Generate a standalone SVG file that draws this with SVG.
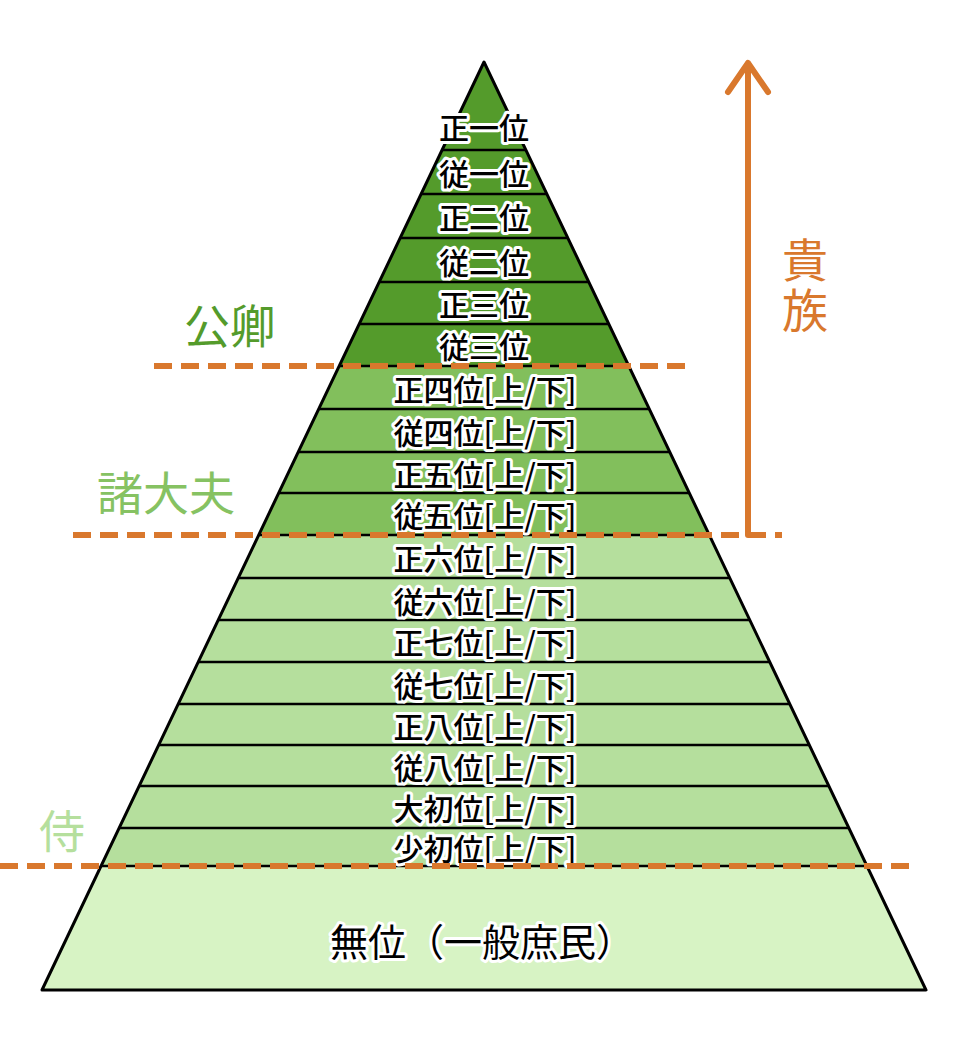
<svg xmlns="http://www.w3.org/2000/svg" width="960" height="1056" viewBox="0 0 960 1056">
<style>
.rank{font-family:"Noto Sans CJK JP","Noto Sans",sans-serif;font-size:30px;font-weight:500;fill:#000;stroke:#fff;stroke-width:6px;stroke-linejoin:round;paint-order:stroke;text-anchor:middle;dominant-baseline:central}
.sep{stroke:#000;stroke-width:2.5}
.dash{stroke:#d9782d;stroke-width:6;stroke-dasharray:18 9;fill:none}
.lbl{font-family:"Noto Sans CJK JP","Noto Sans",sans-serif;font-size:46px;text-anchor:middle;dominant-baseline:central}
</style>
<rect width="960" height="1056" fill="#fff"/>
<g id="pyramid">
<polygon points="484,62 628.8,366 339.2,366" fill="#549b2b"/>
<polygon points="339.2,366 628.8,366 709.3,535 258.7,535" fill="#82bf5c"/>
<polygon points="258.7,535 709.3,535 866.9,866 101.1,866" fill="#b5df9d"/>
<polygon points="101.1,866 866.9,866 926,990 42,990" fill="#d7f3c4"/>
<g class="sep">
<line x1="442.1" y1="150" x2="525.9" y2="150"/>
<line x1="421.1" y1="194" x2="546.9" y2="194"/>
<line x1="400.2" y1="238" x2="567.8" y2="238"/>
<line x1="379.2" y1="282" x2="588.8" y2="282"/>
<line x1="359.2" y1="324" x2="608.8" y2="324"/>
<line x1="339.2" y1="366" x2="628.8" y2="366"/>
<line x1="318.7" y1="409" x2="649.3" y2="409"/>
<line x1="298.2" y1="452" x2="669.8" y2="452"/>
<line x1="278.7" y1="493" x2="689.3" y2="493"/>
<line x1="258.7" y1="535" x2="709.3" y2="535"/>
<line x1="238.2" y1="578" x2="729.8" y2="578"/>
<line x1="218.2" y1="620" x2="749.8" y2="620"/>
<line x1="198.2" y1="662" x2="769.8" y2="662"/>
<line x1="178.2" y1="704" x2="789.8" y2="704"/>
<line x1="158.7" y1="745" x2="809.3" y2="745"/>
<line x1="139.2" y1="786" x2="828.8" y2="786"/>
<line x1="119.2" y1="828" x2="848.8" y2="828"/>
<line x1="101.1" y1="866" x2="866.9" y2="866"/>
</g>
<polygon points="484,62 926,990 42,990" fill="none" stroke="#000" stroke-width="3" stroke-linejoin="round"/>
</g>
<g id="ranks">
<text class="rank" x="484" y="126">正一位</text>
<text class="rank" x="484" y="172">従一位</text>
<text class="rank" x="484" y="216">正二位</text>
<text class="rank" x="484" y="261">従二位</text>
<text class="rank" x="484" y="303">正三位</text>
<text class="rank" x="484" y="345">従三位</text>
<text class="rank" x="485" y="388">正四位[上/下]</text>
<text class="rank" x="485" y="431">従四位[上/下]</text>
<text class="rank" x="485" y="473">正五位[上/下]</text>
<text class="rank" x="485" y="514">従五位[上/下]</text>
<text class="rank" x="485" y="557">正六位[上/下]</text>
<text class="rank" x="485" y="600">従六位[上/下]</text>
<text class="rank" x="485" y="641">正七位[上/下]</text>
<text class="rank" x="485" y="684">従七位[上/下]</text>
<text class="rank" x="485" y="725">正八位[上/下]</text>
<text class="rank" x="485" y="766">従八位[上/下]</text>
<text class="rank" x="485" y="807">大初位[上/下]</text>
<text class="rank" x="485" y="847">少初位[上/下]</text>
<text class="rank" x="482" y="939" style="font-size:38px;font-weight:400">無位（一般庶民）</text>
</g>
<g id="label-kugyo"><text class="lbl" x="230" y="323" fill="#549b2b">公卿</text></g>
<g id="label-shodaibu"><text class="lbl" x="166" y="490" fill="#86c262">諸大夫</text></g>
<g id="label-samurai"><text class="lbl" x="62" y="828" fill="#b5df9d">侍</text></g>
<g id="label-kizoku">
<text x="805" y="287" fill="#d9782d" font-family="'Noto Sans CJK JP','Noto Sans',sans-serif" font-size="46" writing-mode="vertical-rl" text-anchor="middle" letter-spacing="4">貴族</text>
</g>
<g id="connectors">
<line class="dash" x1="154" y1="366" x2="686" y2="366"/>
<line class="dash" x1="73" y1="535" x2="782" y2="535"/>
<line class="dash" x1="0" y1="866" x2="910" y2="866"/>
<line x1="748" y1="535" x2="748" y2="64" stroke="#d9782d" stroke-width="6" stroke-linecap="round"/>
<polyline points="728,92 748,63 768,92" fill="none" stroke="#d9782d" stroke-width="6" stroke-linecap="round" stroke-linejoin="round"/>
</g>
</svg>
